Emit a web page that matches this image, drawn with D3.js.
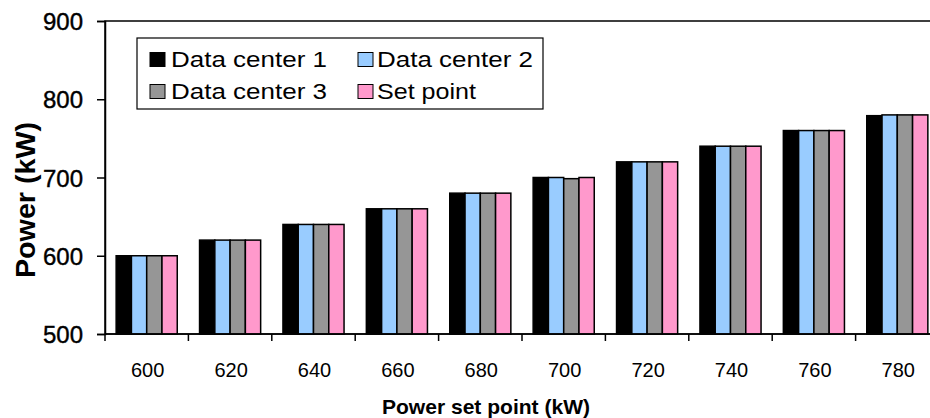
<!DOCTYPE html>
<html>
<head>
<meta charset="utf-8">
<script src="https://cdn.jsdelivr.net/npm/d3@7"></script>
<style>
  html, body { margin: 0; padding: 0; background: #fff; }
  svg { display: block; font-family: "Liberation Sans", Arial, sans-serif; }
</style>
</head>
<body>
<svg id="chart" width="930" height="418"></svg>
<script>
// ---- data ----
const categories = ["600", "620", "640", "660", "680", "700", "720", "740", "760", "780"];
const seriesNames = ["Data center 1", "Data center 2", "Data center 3", "Set point"];
const dataCenter1 = [600, 620, 640, 660, 680, 700, 720, 740, 760, 779];
const dataCenter2 = [600, 620, 640, 660, 680, 700, 720, 740, 760, 780];
const dataCenter3 = [600, 620, 640, 660, 680, 698.5, 720, 740, 760, 780];
const setPoint    = [600, 620, 640, 660, 680, 700, 720, 740, 760, 780];
const yTicks = [500, 600, 700, 800, 900];
const seriesColors = ["#000000", "#99ccff", "#969696", "#ff99cc"];
const xTitle = "Power set point (kW)";
const yTitle = "Power (kW)";

const seriesValues = [dataCenter1, dataCenter2, dataCenter3, setPoint];

// ---- layout ----
const svg = d3.select("#chart");
const plotLeft = 105, plotRight = 939, plotTop = 21, plotBottom = 334;

const x0 = d3.scaleBand().domain(categories).range([plotLeft, plotRight]).padding(0);
const x1 = d3.scaleBand().domain(seriesNames).range([0, x0.bandwidth()])
  .paddingInner(0).paddingOuter(0.73);
const y = d3.scaleLinear().domain([500, 900]).range([plotBottom, plotTop]);

// plot border
svg.append("rect")
  .attr("x", plotLeft).attr("y", plotTop)
  .attr("width", plotRight - plotLeft).attr("height", plotBottom - plotTop)
  .attr("fill", "none").attr("stroke", "#000").attr("stroke-width", 1.5);

// bars
const groups = svg.append("g").selectAll("g")
  .data(categories)
  .join("g")
  .attr("transform", d => `translate(${x0(d)},0)`);

groups.selectAll("rect")
  .data((c, i) => seriesNames.map((s, k) => ({ s, k, v: seriesValues[k][i] })))
  .join("rect")
  .attr("x", d => x1(d.s))
  .attr("y", d => y(d.v))
  .attr("width", x1.bandwidth())
  .attr("height", d => y(500) - y(d.v))
  .attr("fill", d => seriesColors[d.k])
  .attr("stroke", "#000")
  .attr("stroke-width", 1.5);

// y axis
const yAxis = svg.append("g")
  .attr("transform", `translate(${plotLeft},0)`)
  .call(d3.axisLeft(y).tickValues(yTicks).tickSize(8).tickPadding(14).tickFormat(d3.format("d")));
yAxis.select(".domain").attr("stroke", "#000").attr("stroke-width", 1.5);
yAxis.selectAll(".tick line").attr("stroke", "#000").attr("stroke-width", 1.5);
yAxis.selectAll(".tick text")
  .attr("font-size", 24)
  .attr("font-family", "'Liberation Sans', Arial, sans-serif")
  .attr("fill", "#000")
  .attr("stroke", "#000").attr("stroke-width", 0.4)
  .attr("dy", "0.36em");

// x axis (ticks at category boundaries)
const boundaries = categories.map(c => x0(c));
const xAxis = svg.append("g")
  .attr("transform", `translate(0,${plotBottom})`);
xAxis.append("line")
  .attr("x1", plotLeft).attr("x2", plotRight)
  .attr("stroke", "#000").attr("stroke-width", 1.5);
xAxis.selectAll("line.tk")
  .data(boundaries)
  .join("line")
  .attr("class", "tk")
  .attr("x1", d => d).attr("x2", d => d)
  .attr("y1", 0).attr("y2", 7)
  .attr("stroke", "#000").attr("stroke-width", 1.5);
xAxis.selectAll("text")
  .data(categories)
  .join("text")
  .attr("x", d => x0(d) + x0.bandwidth() / 2 + 1)
  .attr("y", 43)
  .attr("text-anchor", "middle")
  .attr("font-size", 20)
  .attr("fill", "#000")
  .text(d => d);

// axis titles
svg.append("text")
  .attr("x", 486).attr("y", 414)
  .attr("text-anchor", "middle")
  .attr("font-size", 21).attr("font-weight", "bold")
  .attr("textLength", 208).attr("lengthAdjust", "spacingAndGlyphs")
  .text(xTitle);

svg.append("text")
  .attr("transform", "translate(35,200) rotate(-90)")
  .attr("text-anchor", "middle")
  .attr("font-size", 27).attr("font-weight", "bold")
  .attr("textLength", 156).attr("lengthAdjust", "spacingAndGlyphs")
  .text(yTitle);

// legend
const legend = svg.append("g");
legend.append("rect")
  .attr("x", 137).attr("y", 38).attr("width", 406).attr("height", 71)
  .attr("fill", "#fff").attr("stroke", "#000").attr("stroke-width", 1.2);

const legendPos = [
  { sx: 150, tx: 171, row: 0 },
  { sx: 358, tx: 377, row: 0 },
  { sx: 150, tx: 171, row: 1 },
  { sx: 358, tx: 377, row: 1 }
];
const rowBase = [66.5, 98.5];
const items = legend.selectAll("g.item")
  .data(seriesNames)
  .join("g").attr("class", "item");
items.append("rect")
  .attr("x", (d, i) => legendPos[i].sx)
  .attr("y", (d, i) => rowBase[legendPos[i].row] - 14)
  .attr("width", 15).attr("height", 14)
  .attr("fill", (d, i) => seriesColors[i])
  .attr("stroke", "#000").attr("stroke-width", 1);
items.append("text")
  .attr("x", (d, i) => legendPos[i].tx)
  .attr("y", (d, i) => rowBase[legendPos[i].row])
  .attr("font-size", 22)
  .attr("fill", "#000")
  .attr("textLength", d => d === "Set point" ? 99 : 156)
  .attr("lengthAdjust", "spacingAndGlyphs")
  .text(d => d);
</script>
</body>
</html>
